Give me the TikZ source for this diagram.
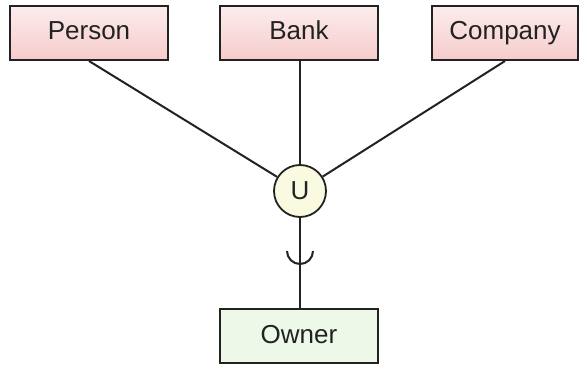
\documentclass[tikz,border=0pt]{standalone}
\usepackage{fontspec}
\setmainfont{Liberation Sans}
\definecolor{pinktop}{HTML}{FCECEC}
\definecolor{pinkbot}{HTML}{F6CCCC}
\definecolor{greenfill}{HTML}{EEF8E8}
\definecolor{yellowfill}{HTML}{FAFAE0}
\definecolor{edge}{HTML}{222222}
\begin{document}
\begin{tikzpicture}[x=1pt,y=1pt,
  lbl/.style={font=\fontsize{26}{30}\selectfont,text=edge,text height=19pt,text depth=5pt},
  entity/.style={lbl,draw=edge,line width=2pt,minimum height=54pt,inner sep=0pt,
    top color=pinktop,bottom color=pinkbot},
  owner/.style={lbl,draw=edge,line width=2pt,minimum width=158pt,minimum height=54pt,inner sep=0pt,
    fill=greenfill},
  unionc/.style={circle,draw=edge,line width=1.8pt,minimum size=52pt,inner sep=0pt,
    fill=yellowfill,font=\fontsize{26}{30}\selectfont,text=edge},
  conn/.style={draw=edge,line width=2pt}]
\useasboundingbox (0,0) rectangle (584,365);
\node[entity,minimum width=158pt] (person) at (89,332) {Person};
\node[entity,minimum width=158pt] (bank) at (299,332) {Bank};
\node[entity,minimum width=146pt] (company) at (505,332) {Company};
\node[unionc] (u) at (300,174) {U};
\node[owner] (owner) at (299,29) {Owner};
\draw[conn] (person.south) -- (u);
\draw[conn] (bank.south -| u) -- (u);
\draw[conn] (company.south) -- (u);
\draw[conn] (u) -- (u |- owner.north);
\coordinate (cup) at (300,114);
\draw[conn] ([xshift=-13pt]cup) arc (180:360:13pt);
\end{tikzpicture}
\end{document}
